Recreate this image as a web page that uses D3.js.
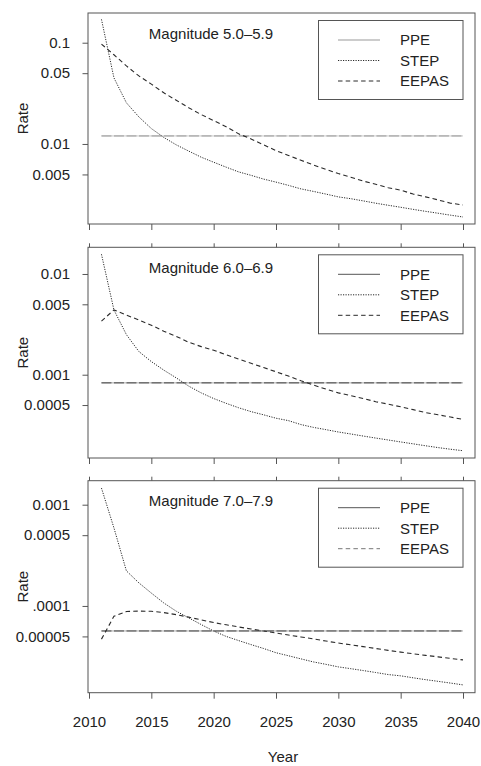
<!DOCTYPE html>
<html>
<head>
<meta charset="utf-8">
<script src="https://cdn.jsdelivr.net/npm/d3@7"></script>
<style>
  html, body { margin: 0; padding: 0; background: #fff; }
  svg { display: block; }
  text { font-family: "Liberation Sans", Arial, Helvetica, sans-serif; fill: #222; }
</style>
</head>
<body>
<svg id="chart" width="481" height="766"></svg>
<script>
// ---------------- data ----------------
const years = [2011, 2012, 2013, 2014, 2015, 2016, 2017, 2018, 2019, 2020,
               2021, 2022, 2023, 2024, 2025, 2026, 2027, 2028, 2029, 2030,
               2031, 2032, 2033, 2034, 2035, 2036, 2037, 2038, 2039, 2040];

const panelTitles = ["Magnitude 5.0\u20135.9", "Magnitude 6.0\u20136.9", "Magnitude 7.0\u20137.9"];
const seriesNames = ["PPE", "STEP", "EEPAS"];

// PPE: constant rate per magnitude class
const ppeRates = [0.012, 0.00083, 0.0000566];

const stepM5 = [0.17, 0.045, 0.0255, 0.0185, 0.0142, 0.0116, 0.0098, 0.0085, 0.0074, 0.0066,
                0.0059, 0.0053, 0.0049, 0.0045, 0.0042, 0.0039, 0.0036, 0.0034, 0.0032, 0.0030,
                0.00288, 0.00274, 0.0026, 0.00248, 0.00237, 0.00226, 0.00216, 0.00207, 0.00198, 0.0019];
const eepasM5 = [0.097, 0.076, 0.059, 0.047, 0.039, 0.032, 0.027, 0.0228, 0.0195, 0.0170,
                 0.0148, 0.0126, 0.0112, 0.0098, 0.0086, 0.0077, 0.0069, 0.0062, 0.0056, 0.0051,
                 0.0047, 0.0043, 0.0040, 0.0037, 0.0035, 0.0032, 0.0030, 0.0028, 0.0026, 0.0025];

const stepM6 = [0.0157, 0.0044, 0.0025, 0.0017, 0.00135, 0.00111, 0.00093, 0.00077, 0.00066, 0.00058,
                0.00052, 0.00047, 0.00043, 0.00040, 0.00037, 0.00035, 0.00032, 0.00030, 0.000285, 0.00027,
                0.000258, 0.000246, 0.000235, 0.000225, 0.000215, 0.000206, 0.000197, 0.000189, 0.000182, 0.000176];
const eepasM6 = [0.0034, 0.0044, 0.0039, 0.0035, 0.0031, 0.0027, 0.0024, 0.0021, 0.0019, 0.00175,
                 0.00158, 0.00143, 0.00130, 0.00118, 0.00107, 0.00097, 0.00087, 0.00079, 0.00072, 0.00066,
                 0.00062, 0.00058, 0.00054, 0.00051, 0.00048, 0.00045, 0.00042, 0.00040, 0.00038, 0.00036];

const stepM7 = [0.00146, 0.00059, 0.000222, 0.000169, 0.000134, 0.000107, 0.0000887, 0.0000762, 0.0000655, 0.0000565,
                0.000050, 0.0000455, 0.0000415, 0.000038, 0.0000345, 0.0000322, 0.000030, 0.000028, 0.0000265, 0.000025,
                0.000024, 0.000023, 0.000022, 0.000021, 0.0000204, 0.0000195, 0.0000187, 0.000018, 0.0000173, 0.0000166];
const eepasM7 = [0.000047, 0.000079, 0.000088, 0.000089, 0.0000885, 0.000086, 0.000082, 0.0000775, 0.0000728, 0.0000685,
                 0.0000651, 0.000062, 0.0000592, 0.0000565, 0.000054, 0.0000516, 0.0000494, 0.0000472, 0.000045, 0.000043,
                 0.0000413, 0.0000396, 0.000038, 0.0000364, 0.000035, 0.0000337, 0.0000325, 0.0000314, 0.0000303, 0.0000293];

const xTickValues = [2010, 2015, 2020, 2025, 2030, 2035, 2040];
const yTickValues = [[0.1, 0.05, 0.01, 0.005], [0.01, 0.005, 0.001, 0.0005], [0.001, 0.0005, 0.0001, 0.00005]];
const yTickLabels = [["0.1", "0.05", "0.01", "0.005"], ["0.01", "0.005", "0.001", "0.0005"], ["0.001", "0.0005", ".0001", "0.00005"]];

const stepSeries = [stepM5, stepM6, stepM7];
const eepasSeries = [eepasM5, eepasM6, eepasM7];

// ---------------- layout ----------------
const svg = d3.select("#chart");
const frameLeft = 88, frameRight = 475;
const panels = [
  { top: 13,    bottom: 224,   ylo: 0.00162,  yhi: 0.1965 },
  { top: 247.3, bottom: 458,   ylo: 0.000149, yhi: 0.0184 },
  { top: 480.7, bottom: 692.7, ylo: 1.39e-5,  yhi: 0.001726 }
];
const x = d3.scaleLinear().domain([2010, 2040]).range([89, 463]);

const dark = "#2a2a2a";
const frameColor = "#555";
const dotDash = "1.2,1.3";
const longDash = "4.5,3.2";

panels.forEach((p, i) => {
  const y = d3.scaleLog().domain([p.ylo, p.yhi]).range([p.bottom, p.top]);
  const g = svg.append("g");

  const clipId = "clip" + i;
  svg.append("clipPath").attr("id", clipId)
    .append("rect").attr("x", frameLeft).attr("y", p.top)
    .attr("width", frameRight - frameLeft).attr("height", p.bottom - p.top);

  const plot = g.append("g").attr("clip-path", `url(#${clipId})`);
  const line = d3.line().x(d => x(d[0])).y(d => y(d[1]));

  // PPE
  const ppeData = years.map(yr => [yr, ppeRates[i]]);
  plot.append("path").attr("d", line(ppeData)).attr("fill", "none")
    .attr("stroke", i === 0 ? "#c8c8c8" : "#aaa").attr("stroke-width", 1);
  plot.append("path").attr("d", line(ppeData)).attr("fill", "none")
    .attr("stroke", i === 0 ? "#999" : "#444").attr("stroke-width", 1)
    .attr("stroke-dasharray", "10,2.5");

  // STEP (dotted)
  plot.append("path").attr("d", line(years.map((yr, k) => [yr, stepSeries[i][k]])))
    .attr("fill", "none").attr("stroke", dark).attr("stroke-width", 1)
    .attr("stroke-dasharray", dotDash);

  // EEPAS (dashed)
  plot.append("path").attr("d", line(years.map((yr, k) => [yr, eepasSeries[i][k]])))
    .attr("fill", "none").attr("stroke", dark).attr("stroke-width", 1.1)
    .attr("stroke-dasharray", longDash);

  // frame
  g.append("rect").attr("x", frameLeft).attr("y", p.top)
    .attr("width", frameRight - frameLeft).attr("height", p.bottom - p.top)
    .attr("fill", "none").attr("stroke", frameColor).attr("stroke-width", 1);

  // y axis
  const yAxis = d3.axisLeft(y).tickValues(yTickValues[i])
    .tickFormat((d, k) => yTickLabels[i][k]).tickSize(5.5).tickPadding(12.5);
  const ya = g.append("g").attr("transform", `translate(${frameLeft},0)`).call(yAxis);
  ya.select(".domain").remove();
  ya.selectAll("line").attr("stroke", frameColor);
  ya.selectAll("text").style("font-size", "15px").attr("fill", "#222")
    .style("font-family", '"Liberation Sans", Arial, sans-serif');

  // bottom x ticks
  const xAxis = d3.axisBottom(x).tickValues(xTickValues).tickSize(6).tickPadding(17.6)
    .tickFormat(i === 2 ? d3.format("d") : () => "");
  const xa = g.append("g").attr("transform", `translate(0,${p.bottom})`).call(xAxis);
  xa.select(".domain").remove();
  xa.selectAll("line").attr("stroke", frameColor);
  xa.selectAll("text").style("font-size", "15px").attr("fill", "#222")
    .style("font-family", '"Liberation Sans", Arial, sans-serif');

  // top ticks for lower panels
  if (i > 0) {
    const xt = g.append("g").attr("transform", `translate(0,${p.top})`)
      .call(d3.axisTop(x).tickValues(xTickValues).tickSize(4).tickFormat(() => ""));
    xt.select(".domain").remove();
    xt.selectAll("line").attr("stroke", frameColor);
  }

  // Rate label
  g.append("text").attr("transform", `translate(28,${(p.top + p.bottom) / 2}) rotate(-90)`)
    .attr("text-anchor", "middle").style("font-size", "15px").text("Rate");

  // title
  g.append("text").attr("x", 211).attr("y", p.top + 25.5)
    .attr("text-anchor", "middle").style("font-size", "15px").text(panelTitles[i]);

  // legend
  const lg = g.append("g");
  lg.append("rect").attr("x", 318.5).attr("y", p.top + 7.5)
    .attr("width", 144.5).attr("height", 79)
    .attr("fill", "#fff").attr("stroke", frameColor).attr("stroke-width", 1);
  const rowY = [27, 47.5, 68];
  const legStroke = [i === 0 ? "#999" : "#555", dark, i === 2 ? "#777" : dark];
  const legDash = [null, dotDash, longDash];
  seriesNames.forEach((nm, k) => {
    const ly = p.top + rowY[k];
    const ln = lg.append("line").attr("x1", 338).attr("x2", 380).attr("y1", ly).attr("y2", ly)
      .attr("stroke", legStroke[k]).attr("stroke-width", 1);
    if (legDash[k]) ln.attr("stroke-dasharray", legDash[k]);
    lg.append("text").attr("x", 400).attr("y", ly).attr("dy", "0.36em")
      .style("font-size", "15px").text(nm);
  });
});

// x axis title
svg.append("text").attr("x", 283).attr("y", 762).attr("text-anchor", "middle")
  .style("font-size", "15px").text("Year");
</script>
</body>
</html>
